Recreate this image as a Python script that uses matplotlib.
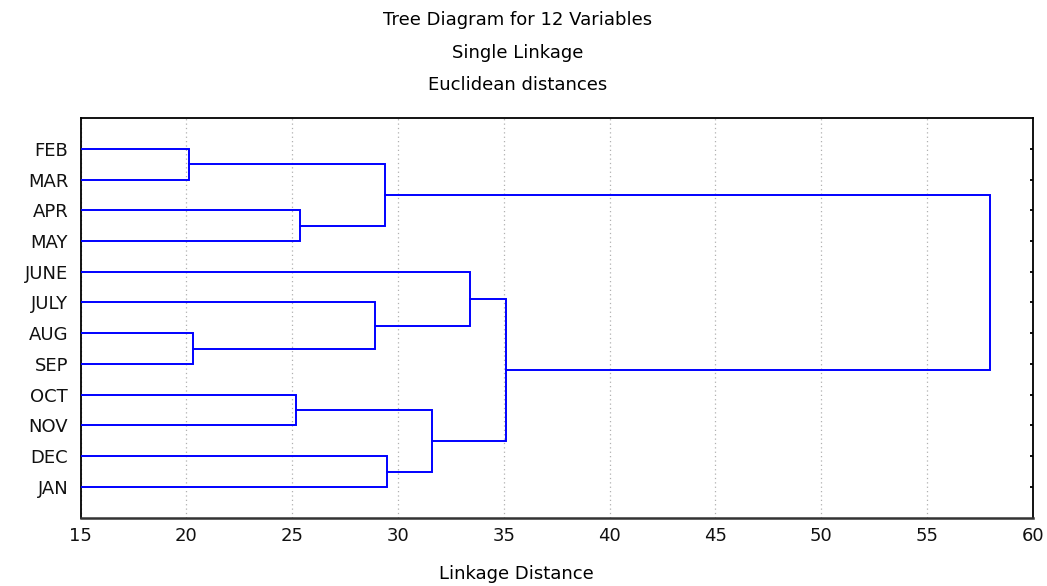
import matplotlib.pyplot as plt

plt.rcParams['font.family'] = ['DejaVu Sans']

# leaves from top to bottom
labels = ['FEB', 'MAR', 'APR', 'MAY', 'JUNE', 'JULY', 'AUG', 'SEP',
          'OCT', 'NOV', 'DEC', 'JAN']

# merges: (left cluster, right cluster, linkage distance)
# leaves are 0..11, new clusters get ids 12, 13, ...
merge_left = [0, 6, 8, 2, 5, 12, 10, 14, 4, 20, 17]
merge_right = [1, 7, 9, 3, 13, 15, 11, 18, 16, 19, 21]
merge_dist = [20.1, 20.3, 25.2, 25.35, 28.9, 29.4, 29.5, 31.6, 33.4, 35.1, 58.0]

x_ticks = [15, 20, 25, 30, 35, 40, 45, 50, 55, 60]

fig = plt.figure(figsize=(10.47, 5.86), dpi=100)
ax = fig.add_axes([0.0771, 0.1166, 0.9092, 0.682])

# position (height, y) of every cluster
node_x = {i: 15.0 for i in range(len(labels))}
node_y = {i: i + 1 for i in range(len(labels))}

for k, (a, b, d) in enumerate(zip(merge_left, merge_right, merge_dist)):
    ax.plot([node_x[a], d, d, node_x[b]], [node_y[a], node_y[a], node_y[b], node_y[b]],
            color='#0000ff', lw=1.4, solid_joinstyle='miter', zorder=3)
    new_id = len(labels) + k
    node_x[new_id] = d
    node_y[new_id] = (node_y[a] + node_y[b]) / 2

ax.set_xlim(15, 60)
ax.set_ylim(13, 0)
ax.set_xticks(x_ticks)
ax.set_yticks(range(1, len(labels) + 1))
ax.set_yticklabels(labels)

ax.grid(axis='x', color='#b0b0b0', linestyle=(0, (1, 2.5)), lw=0.9)
ax.set_axisbelow(True)

for sp in ax.spines.values():
    sp.set_color('black')
    sp.set_linewidth(1.3)
ax.spines['bottom'].set_color('#333333')
ax.spines['bottom'].set_linewidth(1.8)

ax.tick_params(axis='y', left=False, right=True, direction='in', length=2.5, width=1.3,
               pad=9, labelsize=13, labelcolor='#111111')
ax.tick_params(axis='x', length=0, pad=7, labelsize=13, labelcolor='#111111')

fig.text(0.4947, 0.966, 'Tree Diagram for 12 Variables', ha='center', va='center', fontsize=13)
fig.text(0.4947, 0.910, 'Single Linkage', ha='center', va='center', fontsize=13)
fig.text(0.4947, 0.855, 'Euclidean distances', ha='center', va='center', fontsize=13)
fig.text(0.4928, 0.020, 'Linkage Distance', ha='center', va='center', fontsize=13)

fig.savefig('out.png', dpi=100)
